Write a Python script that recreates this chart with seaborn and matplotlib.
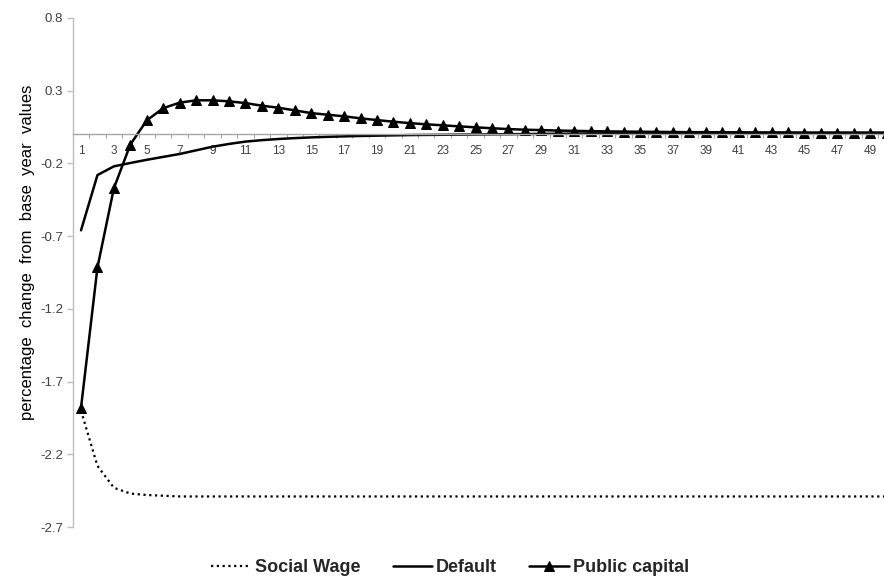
import numpy as np
import pandas as pd
import matplotlib
matplotlib.use("Agg")
import matplotlib.pyplot as plt
import seaborn as sns

# Years after the shock (category axis 1..50)
years = list(range(1, 51))

# Percentage change from base year values
social_wage = [-1.90, -2.28, -2.43, -2.47, -2.48, -2.485, -2.49, -2.49, -2.49, -2.49,
               -2.49, -2.49, -2.49, -2.49, -2.49, -2.49, -2.49, -2.49, -2.49, -2.49,
               -2.49, -2.49, -2.49, -2.49, -2.49, -2.49, -2.49, -2.49, -2.49, -2.49,
               -2.49, -2.49, -2.49, -2.49, -2.49, -2.49, -2.49, -2.49, -2.49, -2.49,
               -2.49, -2.49, -2.49, -2.49, -2.49, -2.49, -2.49, -2.49, -2.49, -2.49]

default = [-0.66, -0.28, -0.22, -0.197, -0.175, -0.155, -0.135, -0.11, -0.085, -0.066,
           -0.05, -0.04, -0.032, -0.026, -0.021, -0.017, -0.014, -0.011, -0.009, -0.007,
           -0.005, -0.004, -0.003, -0.002, -0.001, 0.000, 0.001, 0.002, 0.003, 0.004,
           0.005, 0.006, 0.007, 0.007, 0.008, 0.008, 0.008, 0.009, 0.009, 0.009,
           0.009, 0.009, 0.009, 0.009, 0.009, 0.009, 0.009, 0.009, 0.009, 0.009]

public_capital = [-1.88, -0.915, -0.37, -0.07, 0.096, 0.18, 0.218, 0.234, 0.234, 0.227,
                  0.215, 0.197, 0.183, 0.165, 0.146, 0.135, 0.124, 0.11, 0.098, 0.087,
                  0.077, 0.069, 0.062, 0.055, 0.048, 0.042, 0.036, 0.032, 0.029, 0.026,
                  0.024, 0.022, 0.020, 0.019, 0.018, 0.017, 0.016, 0.015, 0.015, 0.014,
                  0.014, 0.013, 0.013, 0.013, 0.012, 0.012, 0.012, 0.012, 0.012, 0.012]

y_ticks = [0.8, 0.3, -0.2, -0.7, -1.2, -1.7, -2.2, -2.7]

sns.set_theme(style="white")
plt.rcParams['font.family'] = ['Liberation Sans', 'DejaVu Sans']

fig = plt.figure(figsize=(8.84, 5.86), dpi=100)
# axis runs past the right edge of the picture, as in the original
ax = fig.add_axes([72.8 / 884, 1 - 527 / 586, 822 / 884, 509 / 586])

sns.lineplot(x=years, y=social_wage, ax=ax, color='black', linewidth=1.6,
             dashes=False, label='Social Wage')
sns.lineplot(x=years, y=default, ax=ax, color='black', linewidth=1.8,
             label='Default')
sns.lineplot(x=years, y=public_capital, ax=ax, color='black', linewidth=1.8,
             marker='^', markersize=7, markeredgecolor='black', label='Public capital')
ax.lines[0].set_dashes((1, 1.6))

ax.set_xlim(0.5, 50.5)
ax.set_ylim(-2.7, 0.8)
ax.set_yticks(y_ticks)
ax.set_yticklabels([f'{v:.1f}' for v in y_ticks])
ax.set_xticks(years[::2])
ax.set_xticklabels([str(y) for y in years[::2]])
ax.set_xticks(np.arange(0.5, 51, 1), minor=True)

# x axis sits at zero
for side in ['top', 'right']:
    ax.spines[side].set_visible(False)
ax.spines['bottom'].set_position(('data', 0))
ax.spines['bottom'].set_color('#a6a6a6')
ax.spines['left'].set_color('#bfbfbf')
ax.spines['bottom'].set_linewidth(1)
ax.spines['left'].set_linewidth(1)

ax.tick_params(axis='y', which='major', length=4, width=1, color='#bfbfbf',
               labelsize=9.5, labelcolor='#404040', pad=3, left=True)
ax.tick_params(axis='x', which='major', length=0, labelsize=8.5,
               labelcolor='#404040', pad=8)
ax.tick_params(axis='x', which='minor', length=3, width=0.8, color='#a6a6a6',
               bottom=True)

ax.set_xlabel('')
ax.set_ylabel('percentage  change  from  base  year  values', fontsize=12,
              color='black')
ax.yaxis.set_label_coords(-0.046, 0.54)

ax.legend(loc='center', bbox_to_anchor=(450 / 884, 1 - 568 / 586),
          bbox_transform=fig.transFigure, ncol=3, frameon=False,
          handlelength=2.2, handletextpad=0.2, columnspacing=1.8,
          prop={'weight': 'bold', 'size': 13})

fig.savefig('out.png', dpi=100)
